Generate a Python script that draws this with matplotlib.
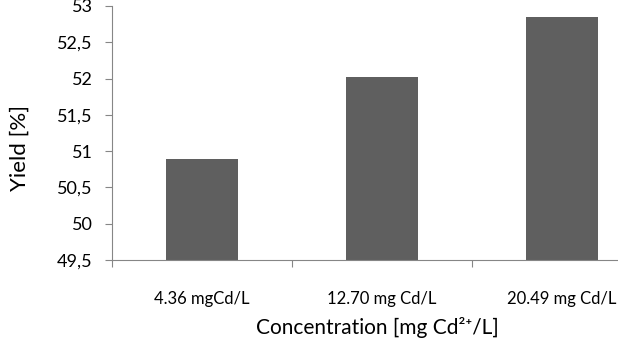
import matplotlib
matplotlib.use("Agg")
import matplotlib.pyplot as plt

# values
categories = ["4.36 mgCd/L", "12.70 mg Cd/L", "20.49 mg Cd/L"]
yields = [50.89, 52.02, 52.85]
yticks = [49.5, 50, 50.5, 51, 51.5, 52, 52.5, 53]
ytick_labels = ["49,5", "50", "50,5", "51", "51,5", "52", "52,5", "53"]

plt.rcParams['font.family'] = ['Lato', 'DejaVu Sans']
AXIS_GRAY = '#868686'

fig = plt.figure(figsize=(6.18, 3.44), dpi=100)
# axis runs past the right edge of the picture, as in the reference
ax = fig.add_axes([112 / 618, 1 - 260 / 344, 540 / 618, 254 / 344])

x = list(range(len(categories)))
ax.bar(x, [v - 49.5 for v in yields], bottom=49.5, width=0.4, color='#5f5f5f')

ax.set_xlim(-0.5, len(categories) - 0.5)
ax.set_ylim(49.5, 53)
ax.set_yticks(yticks)
ax.set_yticklabels(ytick_labels, fontsize=13)

# tick marks at category borders, labels at centres
ax.set_xticks([i - 0.5 for i in range(len(categories) + 1)])
ax.set_xticklabels([])
ax.set_xticks(x, minor=True)
ax.set_xticklabels(categories, minor=True, fontsize=12)
ax.tick_params(axis='x', which='minor', length=0, pad=22)
ax.tick_params(axis='x', which='major', length=5, color=AXIS_GRAY)
ax.tick_params(axis='y', length=5, color=AXIS_GRAY, pad=9)

for s in ['top', 'right']:
    ax.spines[s].set_visible(False)
for s in ['left', 'bottom']:
    ax.spines[s].set_color(AXIS_GRAY)

fig.text(377 / 618, 1 - 327 / 344, "Concentration [mg Cd²⁺/L]", fontsize=15,
         ha='center', va='center')
fig.text(20 / 618, 1 - 148 / 344, "Yield [%]", fontsize=16, rotation=90,
         ha='center', va='center')

fig.savefig("out.png", dpi=100)
